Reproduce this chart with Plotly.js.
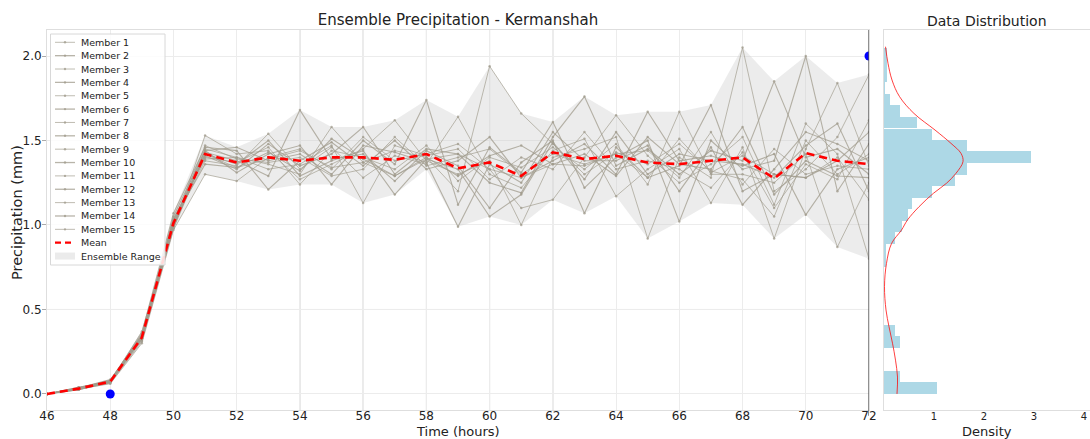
<!DOCTYPE html>
<html>
<head>
<meta charset="utf-8">
<script src="https://cdn.plot.ly/plotly-3.0.1.min.js"></script>
<style>html,body{margin:0;padding:0;background:#fff;}#chart{width:1090px;height:439px;}</style>
</head>
<body>
<div id="chart"></div>
<script>
// ---------------- DATA ----------------
const hours = [46,47,48,49,50,51,52,53,54,55,56,57,58,59,60,61,62,63,64,65,66,67,68,69,70,71,72];

const m1  = [0,0.030,0.070,0.33,1.00,1.45,1.40,1.36,1.30,1.58,1.37,1.44,1.40,1.20,1.94,1.66,1.48,1.30,1.43,1.36,1.48,1.32,1.27,1.05,1.50,1.30,1.42];
const m2  = [0,0.035,0.080,0.35,1.03,1.41,1.33,1.48,1.35,1.42,1.58,1.30,1.45,1.42,1.25,1.19,1.52,1.76,1.35,1.45,1.30,1.44,1.38,1.85,1.40,1.45,1.30];
const m3  = [0,0.025,0.065,0.31,0.98,1.53,1.42,1.44,1.27,1.36,1.45,1.62,1.38,1.30,1.38,1.00,1.40,1.45,1.52,0.92,1.40,1.28,2.05,1.20,1.33,1.52,1.89];
const m4  = [0,0.040,0.075,0.34,1.05,1.44,1.46,1.38,1.42,1.30,1.50,1.36,1.74,1.12,1.46,1.31,1.61,1.22,1.40,1.50,1.02,1.50,1.33,1.38,2.00,1.20,1.48];
const m5  = [0,0.030,0.070,0.37,1.01,1.38,1.35,1.54,1.33,1.46,1.28,1.41,1.36,1.64,1.30,1.22,1.44,1.51,1.17,1.33,1.45,1.13,1.46,0.92,1.45,1.84,1.35];
const m6  = [0,0.035,0.085,0.32,0.99,1.43,1.38,1.29,1.68,1.39,1.42,1.26,1.44,1.35,1.10,1.37,1.50,1.07,1.46,1.28,1.35,1.71,1.20,1.30,1.28,1.38,1.55];
const m7  = [0,0.030,0.060,0.30,0.97,1.30,1.26,1.40,1.45,1.33,1.52,1.38,1.42,1.48,1.33,1.10,1.15,1.40,1.65,1.41,1.25,1.36,1.52,1.12,1.60,1.42,0.80];
const m8  = [0,0.025,0.075,0.36,1.07,1.46,1.44,1.21,1.38,1.49,1.35,1.50,1.33,1.38,1.52,1.28,1.38,1.48,1.30,1.67,1.38,1.41,1.35,1.42,1.06,1.33,1.40];
const m9  = [0,0.040,0.070,0.33,1.02,1.40,1.37,1.46,1.24,1.44,1.40,1.33,1.47,1.26,1.40,1.34,1.46,1.33,1.48,1.24,1.67,1.30,1.30,1.25,1.42,0.87,1.25];
const m10 = [0,0.030,0.080,0.34,1.00,1.44,1.31,1.42,1.47,1.24,1.47,1.43,1.37,0.99,1.36,1.25,1.55,1.38,1.38,1.47,1.20,1.46,1.12,1.33,1.55,1.48,1.38];
const m11 = [0,0.035,0.065,0.32,1.04,1.39,1.40,1.33,1.36,1.47,1.13,1.47,1.41,1.45,1.27,1.40,1.33,1.55,1.33,1.38,1.33,1.22,1.43,1.10,1.36,1.27,1.62];
const m12 = [0,0.030,0.075,0.35,0.98,1.42,1.36,1.50,1.29,1.38,1.44,1.18,1.39,1.33,1.05,1.18,1.49,1.27,1.55,1.30,1.42,1.38,1.36,1.28,1.47,1.60,1.20];
const m13 = [0,0.025,0.070,0.33,1.01,1.47,1.39,1.37,1.40,1.29,1.33,1.52,1.35,1.40,1.45,1.30,1.42,1.36,1.42,1.44,1.28,1.55,1.24,1.45,1.30,1.35,1.33];
const m14 = [0,0.035,0.080,0.34,1.03,1.36,1.34,1.43,1.32,1.51,1.39,1.29,1.40,1.29,1.41,1.47,1.36,1.42,1.29,1.52,1.36,1.33,1.58,1.18,1.38,1.29,1.28];
const m15 = [0,0.030,0.070,0.33,0.99,1.42,1.34,1.39,1.44,1.34,1.37,1.29,1.39,1.42,1.33,1.28,1.36,1.35,1.42,1.28,1.51,1.31,1.41,1.30,1.28,1.40,1.15];

const members = [m1,m2,m3,m4,m5,m6,m7,m8,m9,m10,m11,m12,m13,m14,m15];
const memberNames = ["Member 1","Member 2","Member 3","Member 4","Member 5","Member 6","Member 7","Member 8",
                     "Member 9","Member 10","Member 11","Member 12","Member 13","Member 14","Member 15"];

const obsHours  = [48, 72];
const obsValues = [0.0, 2.0];

// histogram (density) of all ensemble values
const binLow = [0,0.068,0.137,0.205,0.273,0.342,0.410,0.478,0.547,0.615,0.683,0.752,0.820,0.888,0.957,
                1.025,1.093,1.162,1.230,1.298,1.367,1.435,1.503,1.572,1.640,1.708,1.777,1.845,1.913,1.982];
const binDensity = [1.06,0.32,0,0,0.32,0.21,0,0,0,0,0,0.04,0.04,0.21,0.36,
                    0.47,0.56,0.95,1.42,1.65,2.94,1.65,0.95,0.66,0.32,0.11,0.02,0.05,0.05,0.05];

// kernel density curve
const kdeValue   = [2.055,1.957,1.858,1.76,1.66,1.562,1.483,1.424,1.375,1.306,1.247,1.188,1.108,1.03,0.97,0.89,0.773,0.635,0.497,0.398,0.30,0.20,0.10,0.0];
const kdeDensity = [0.03,0.08,0.16,0.31,0.60,1.02,1.34,1.54,1.58,1.44,1.25,0.99,0.70,0.47,0.35,0.15,0.05,0.01,0.04,0.10,0.17,0.23,0.27,0.26];

const xTicks = [46,48,50,52,54,56,58,60,62,64,66,68,70,72];
const yTicks = [0,0.5,1.0,1.5,2.0];
const densityTicks = [1,2,3,4];

// ---------------- DERIVED ----------------
const ensMin = hours.map((h,i)=>Math.min(...members.map(m=>m[i])));
const ensMax = hours.map((h,i)=>Math.max(...members.map(m=>m[i])));
const ensMean = hours.map((h,i)=>members.reduce((s,m)=>s+m[i],0)/members.length);
const binW = binLow[1]-binLow[0];
const binCenter = binLow.map(b=>b+binW/2);

const W = 1090, H = 439;
const px = v => v / W;
const py = v => 1 - v / H;
const FONT = "DejaVu Sans, Arial, sans-serif";
const memberColor = "rgba(160,155,140,0.75)";

const traces = [];
traces.push({x:hours, y:ensMin, mode:"lines", line:{width:0, color:"rgba(0,0,0,0)"}, hoverinfo:"skip", showlegend:false});
traces.push({x:hours, y:ensMax, mode:"lines", line:{width:0, color:"rgba(0,0,0,0)"}, fill:"tonexty",
             fillcolor:"rgba(205,205,205,0.38)", showlegend:false, name:"Ensemble Range"});
members.forEach((m,i)=>{
  traces.push({x:hours, y:m, mode:"lines+markers", name:memberNames[i], showlegend:false,
    line:{color:memberColor, width: (i%2===0)?0.9:1.1},
    marker:{size:2.5, color:memberColor}});
});
traces.push({x:hours, y:ensMean, mode:"lines", name:"Mean", showlegend:false,
             line:{color:"#ff0000", width:2.6, dash:"8px,5px"}});
traces.push({x:obsHours, y:obsValues, mode:"markers", showlegend:false, name:"Observed",
             marker:{color:"#0000ff", size:9}});
traces.push({type:"bar", orientation:"h", y:binCenter, x:binDensity, width:binW, xaxis:"x2", yaxis:"y2",
             marker:{color:"#add8e6", line:{width:0}}, showlegend:false});
traces.push({x:kdeDensity, y:kdeValue, mode:"lines", xaxis:"x2", yaxis:"y2", line:{color:"rgba(255,0,0,0.75)", width:1, shape:"spline"}, showlegend:false});

const yDomain = [1-410/H, 1-30/H];

const shapes = [];
// darker grid lines
[54,56,58,60,62].forEach(v=>shapes.push({type:"line", xref:"x", yref:"y domain", x0:v, x1:v, y0:0, y1:1, line:{color:"#c8c8c8", width:1}, layer:"below"}));
[0.5,1.5].forEach(v=>shapes.push({type:"line", xref:"x domain", yref:"y", x0:0, x1:1, y0:v, y1:v, line:{color:"#c4c4c4", width:1}, layer:"below"}));
shapes.push({type:"line", xref:"x", yref:"y domain", x0:72, x1:72, y0:-0.015, y1:1, line:{color:"#555", width:1.3}, layer:"above"});

// custom legend
const lgTop = 42.3, lgStep = 13.36;
shapes.push({type:"rect", xref:"paper", yref:"paper", x0:px(50.5), x1:px(165), y0:py(34), y1:py(265),
  line:{color:"#d8d8d8", width:1}, fillcolor:"rgba(255,255,255,0.85)", layer:"above"});
const annotations = [];
const legendLabels = memberNames.concat(["Mean","Ensemble Range"]);
legendLabels.forEach((lab,i)=>{
  const yy = lgTop + i*lgStep;
  annotations.push({xref:"paper", yref:"paper", x:px(79), y:py(yy), text:lab, showarrow:false,
    xanchor:"left", yanchor:"middle", font:{family:FONT, size:9.5, color:"#222"}});
  if (i < 15) {
    shapes.push({type:"line", xref:"paper", yref:"paper", x0:px(55), x1:px(75), y0:py(yy), y1:py(yy),
      line:{color:memberColor, width:(i%2===0)?0.9:1.3}, layer:"above"});
    shapes.push({type:"circle", xref:"paper", yref:"paper", x0:px(63.8), x1:px(66.2), y0:py(yy+1.2), y1:py(yy-1.2),
      line:{width:0}, fillcolor:memberColor, layer:"above"});
  } else if (lab === "Mean") {
    shapes.push({type:"line", xref:"paper", yref:"paper", x0:px(55), x1:px(75), y0:py(yy), y1:py(yy),
      line:{color:"#ff0000", width:2.2, dash:"6px,4px"}, layer:"above"});
  } else {
    shapes.push({type:"rect", xref:"paper", yref:"paper", x0:px(55), x1:px(75), y0:py(yy+3.5), y1:py(yy-3.5),
      line:{width:0}, fillcolor:"#ebebeb", layer:"above"});
  }
});
annotations.push({xref:"paper", yref:"paper", x:px(987), y:py(21), text:"Data Distribution", showarrow:false,
  xanchor:"center", yanchor:"middle", font:{family:FONT, size:14, color:"#222"}});
// axis titles
annotations.push({xref:"paper", yref:"paper", x:px(458), y:py(431), text:"Time (hours)", showarrow:false,
  xanchor:"center", yanchor:"middle", font:{family:FONT, size:13, color:"#222"}});
annotations.push({xref:"paper", yref:"paper", x:px(17), y:py(213), text:"Precipitation (mm)", showarrow:false,
  textangle:-90, xanchor:"center", yanchor:"middle", font:{family:FONT, size:14.5, color:"#222"}});
annotations.push({xref:"paper", yref:"paper", x:px(987), y:py(431), text:"Density", showarrow:false,
  xanchor:"center", yanchor:"middle", font:{family:FONT, size:13, color:"#222"}});

const layout = {
  width:W, height:H, margin:{l:0,r:0,t:0,b:0}, paper_bgcolor:"#fff", plot_bgcolor:"#fff",
  font:{family:FONT, color:"#222"}, showlegend:false,
  title:{text:"Ensemble Precipitation - Kermanshah", x:px(458), xanchor:"center", xref:"paper",
         y:py(20), yref:"container", yanchor:"middle", font:{family:FONT, size:15, color:"#222"}},
  xaxis:{domain:[px(47), px(869)], range:[46,72], tickvals:xTicks, ticks:"", showgrid:true, gridcolor:"#ececec",
         zeroline:false, showline:true, mirror:true, linecolor:"#dedede", tickfont:{size:12, color:"#222"},
         ticklabelstandoff:-5, anchor:"y"},
  yaxis:{domain:yDomain, range:[-0.095,2.154], tickvals:yTicks, tickformat:".1f", ticks:"outside", ticklen:4,
         tickcolor:"#aaa", showgrid:true, gridcolor:"#ececec", zeroline:false, showline:true, mirror:true,
         linecolor:"#dedede", tickfont:{size:12, color:"#222"}, ticklabelstandoff:-2, anchor:"x"},
  xaxis2:{domain:[px(884), 1], range:[0,4.12], tickvals:densityTicks, ticks:"", showgrid:false, zeroline:false,
          showline:true, mirror:true, linecolor:"#dedede", tickfont:{size:10, color:"#222"}, ticklabelstandoff:-3,
          ticklabeloverflow:"allow", anchor:"y2"},
  yaxis2:{domain:yDomain, range:[-0.095,2.154], showticklabels:false, ticks:"", showgrid:false, zeroline:false,
          showline:true, mirror:true, linecolor:"#dedede", anchor:"x2"},
  bargap:0,
  shapes:shapes, annotations:annotations
};

Plotly.newPlot("chart", traces, layout, {displayModeBar:false, staticPlot:true});
</script>
</body>
</html>
